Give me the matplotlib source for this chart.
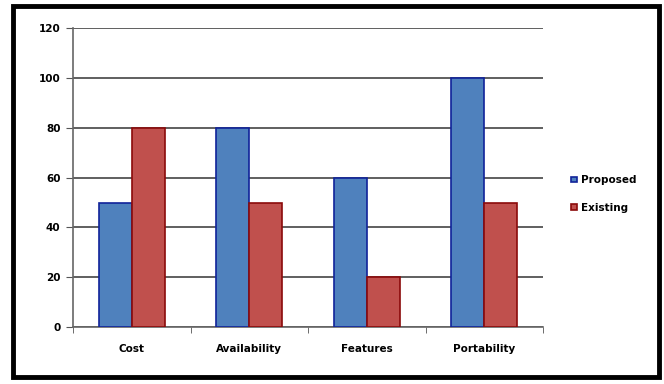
import matplotlib
matplotlib.use("Agg")
import matplotlib.pyplot as plt
import matplotlib.patches as patches
import numpy as np

categories = ["Cost", "Availability", "Features", "Portability"]
proposed = [50, 80, 60, 100]
existing = [80, 50, 20, 50]
y_ticks = [0, 20, 40, 60, 80, 100, 120]

plt.rcParams['font.family'] = ['DejaVu Sans']

fig = plt.figure(figsize=(6.64, 3.84), dpi=100)
ax = fig.add_axes([0.110, 0.148, 0.708, 0.779])

x = np.arange(len(categories))
w = 0.28
ax.bar(x - w / 2, proposed, w, color="#4F81BD", edgecolor="#10239A", linewidth=1.2,
       label="Proposed", zorder=3)
ax.bar(x + w / 2, existing, w, color="#C0504D", edgecolor="#8B0A0A", linewidth=1.2,
       label="Existing", zorder=3)

ax.set_xlim(-0.5, len(categories) - 0.5)
ax.set_ylim(0, 120)
ax.set_yticks(y_ticks)
ax.set_yticklabels([str(t) for t in y_ticks], fontsize=7.5, fontweight="bold")
ax.set_xticks(x)
ax.set_xticklabels(categories, fontsize=7.5, fontweight="bold")
ax.tick_params(axis="x", length=0, pad=12)
ax.set_xticks(np.arange(-0.5, len(categories)), minor=True)
ax.tick_params(axis="x", which="minor", length=4, color="#555555")
ax.tick_params(axis="y", length=5, color="#555555", pad=4)

ax.yaxis.grid(True, color="#444444", linewidth=1.2, zorder=0)
for side in ["top", "right"]:
    ax.spines[side].set_visible(False)
ax.spines["left"].set_color("#666666")
ax.spines["bottom"].set_color("#666666")
ax.spines["left"].set_linewidth(1.2)
ax.spines["bottom"].set_linewidth(1.2)

leg = ax.legend(loc="center left", bbox_to_anchor=(1.04, 0.445), frameon=False,
                prop={"size": 7.5, "weight": "bold"}, handlelength=0.5,
                handleheight=0.5, handletextpad=0.4, labelspacing=1.7)

# black frame around the whole chart
frame = patches.Rectangle((13 / 664, 1 - 377 / 384), 646 / 664, 371 / 384,
                          transform=fig.transFigure, fill=False,
                          edgecolor="black", linewidth=3.5)
fig.patches.append(frame)

fig.savefig("out.png", dpi=100)
